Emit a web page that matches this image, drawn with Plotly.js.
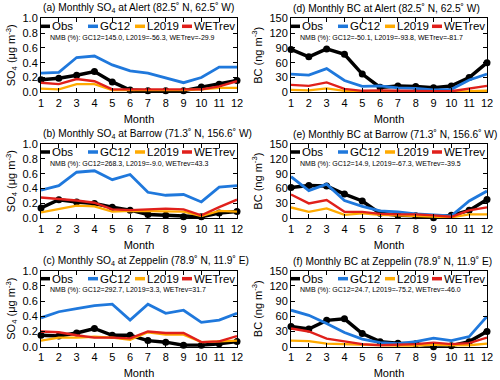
<!DOCTYPE html>
<html>
<head>
<meta charset="utf-8">
<script src="https://cdn.plot.ly/plotly-3.0.1.min.js"></script>
<style>html,body{margin:0;padding:0;background:#fff}#chart{width:500px;height:380px}</style>
</head>
<body>
<div id="chart"></div>
<script>
const months = [1,2,3,4,5,6,7,8,9,10,11,12];
const seriesNames = ["Obs","GC12","L2019","WETrev"];
const seriesColors = ["#000000","#1f78dc","#ffaa00","#e0201b"];

// (a) SO4 Alert
const so4AlertObs    = [0.17,0.19,0.23,0.28,0.14,0.03,0.02,0.02,0.02,0.07,0.11,0.16];
const so4AlertGC12   = [0.26,0.27,0.47,0.49,0.37,0.29,0.26,0.19,0.13,0.20,0.34,0.34];
const so4AlertL2019  = [0.05,0.04,0.11,0.11,0.03,0.03,0.03,0.02,0.03,0.04,0.06,0.06];
const so4AlertWETrev = [0.13,0.11,0.18,0.15,0.04,0.04,0.04,0.03,0.03,0.04,0.08,0.15];
// (d) BC Alert
const bcAlertObs    = [87,72,88,77,37,10,13,12,9,13,30,60];
const bcAlertGC12   = [37,35,48,24,12,13,9,8,5,6,25,37];
const bcAlertL2019  = [5,4,8,3,1,1,1,1,1,1,2,3];
const bcAlertWETrev = [15,13,20,7,3,4,3,2,2,2,8,13];
// (b) SO4 Barrow
const so4BarrowObs    = [0.14,0.25,0.22,0.20,0.15,0.11,0.05,0.04,0.02,0.02,0.07,0.09];
const so4BarrowGC12   = [0.38,0.44,0.62,0.64,0.52,0.59,0.35,0.31,0.32,0.22,0.42,0.44];
const so4BarrowL2019  = [0.08,0.13,0.17,0.16,0.09,0.10,0.10,0.10,0.09,0.03,0.10,0.09];
const so4BarrowWETrev = [0.28,0.26,0.24,0.21,0.12,0.11,0.12,0.13,0.12,0.04,0.15,0.25];
// (e) BC Barrow
const bcBarrowObs    = [62,66,65,49,35,10,6,5,1,6,16,38];
const bcBarrowGC12   = [84,56,69,36,24,15,13,9,7,5,35,55];
const bcBarrowL2019  = [22,13,20,7,10,7,6,5,4,2,8,8];
const bcBarrowWETrev = [48,30,37,13,13,9,8,8,6,3,16,22];
// (c) SO4 Zeppelin
const so4ZepObs    = [0.15,0.14,0.18,0.24,0.15,0.15,0.08,0.06,0.02,0.02,0.04,0.07];
const so4ZepGC12   = [0.38,0.46,0.50,0.54,0.56,0.35,0.56,0.44,0.48,0.32,0.35,0.44];
const so4ZepL2019  = [0.08,0.12,0.12,0.13,0.12,0.09,0.19,0.16,0.16,0.06,0.07,0.08];
const so4ZepWETrev = [0.20,0.19,0.15,0.12,0.12,0.11,0.20,0.18,0.18,0.06,0.07,0.14];
// (f) BC Zeppelin
const bcZepObs    = [40,35,52,55,26,10,7,6,0,2,10,30];
const bcZepGC12   = [72,62,46,28,15,8,6,10,17,12,20,60];
const bcZepL2019  = [12,11,6,5,3,2,2,2,4,3,3,6];
const bcZepWETrev = [36,30,16,10,5,3,4,5,8,5,7,18];

const so4Title = "SO<sub>4</sub> (μg m<sup>-3</sup>)";
const bcTitle = "BC (ng m<sup>-3</sup>)";

const panels = [
  {title:"(a) Monthly SO<sub>4</sub> at Alert (82.5˚ N, 62.5˚ W)", nmb:"NMB (%): GC12=145.0, L2019=-56.3, WETrev=-29.9",
   data:[so4AlertObs,so4AlertGC12,so4AlertL2019,so4AlertWETrev], col:0,row:0, so4:true},
  {title:"(d) Monthly BC at Alert (82.5˚ N, 62.5˚ W)", nmb:"NMB (%): GC12=-50.1, L2019=-93.8, WETrev=-81.7",
   data:[bcAlertObs,bcAlertGC12,bcAlertL2019,bcAlertWETrev], col:1,row:0, so4:false},
  {title:"(b) Monthly SO<sub>4</sub> at Barrow (71.3˚ N, 156.6˚ W)", nmb:"NMB (%): GC12=268.3, L2019=-9.0, WETrev=43.3",
   data:[so4BarrowObs,so4BarrowGC12,so4BarrowL2019,so4BarrowWETrev], col:0,row:1, so4:true},
  {title:"(e) Monthly BC at Barrow (71.3˚ N, 156.6˚ W)", nmb:"NMB (%): GC12=14.9, L2019=-67.3, WETrev=-39.5",
   data:[bcBarrowObs,bcBarrowGC12,bcBarrowL2019,bcBarrowWETrev], col:1,row:1, so4:false},
  {title:"(c) Monthly SO<sub>4</sub> at Zeppelin (78.9˚ N, 11.9˚ E)", nmb:"NMB (%): GC12=292.7, L2019=3.3, WETrev=31.7",
   data:[so4ZepObs,so4ZepGC12,so4ZepL2019,so4ZepWETrev], col:0,row:2, so4:true},
  {title:"(f) Monthly BC at Zeppelin (78.9˚ N, 11.9˚ E)", nmb:"NMB (%): GC12=24.7, L2019=-75.2, WETrev=-46.0",
   data:[bcZepObs,bcZepGC12,bcZepL2019,bcZepWETrev], col:1,row:2, so4:false}
];

const W = 500, H = 380;
const colPx = [[41,237],[291,487]];
const rowPx = [[18.3,92.3],[144,218.3],[270.7,346.7]];
const px = x => x / W;
const py = y => 1 - y / H;

const FONT = "Liberation Sans, Arial, sans-serif";
const traces = [];
const layout = {
  width: W, height: H,
  margin: {l:0, r:0, t:0, b:0},
  paper_bgcolor: "#fff", plot_bgcolor: "#fff",
  showlegend: false,
  font: {family: FONT, color: "#000", size: 11},
  annotations: [], shapes: []
};

panels.forEach((p, i) => {
  const n = i + 1;
  const xa = "xaxis" + (n === 1 ? "" : n), ya = "yaxis" + (n === 1 ? "" : n);
  const xr = "x" + (n === 1 ? "" : n), yr = "y" + (n === 1 ? "" : n);
  const [L, R] = colPx[p.col];
  const [T, B] = rowPx[p.row];
  layout[xa] = {
    domain: [px(L), px(R)], anchor: yr, range: [1, 12],
    tickvals: months, ticktext: months.map(String),
    ticks: "inside", ticklen: 4, tickcolor: "#000", mirror: "ticks",
    showline: true, linecolor: "#000", linewidth: 1, showgrid: false, zeroline: false,
    tickfont: {size: 11}, title: {text: "Month", font: {size: 11}, standoff: 7}
  };
  layout[ya] = {
    domain: [py(B), py(T)], anchor: xr,
    range: p.so4 ? [0, 1] : [0, 150],
    tickvals: p.so4 ? [0,0.2,0.4,0.6,0.8,1.0] : [0,30,60,90,120,150],
    ticktext: p.so4 ? ["0.0","0.2","0.4","0.6","0.8","1.0"] : ["0","30","60","90","120","150"],
    ticks: "inside", ticklen: 4, tickcolor: "#000", mirror: "ticks",
    showline: true, linecolor: "#000", linewidth: 1, showgrid: false, zeroline: false,
    tickfont: {size: 11}, title: {text: p.so4 ? so4Title : bcTitle, font: {size: 11}, standoff: 4}
  };
  const widths = [3.5, 2.8, 2.4, 2.4];
  p.data.forEach((vals, k) => {
    const t = {
      type: "scatter", mode: k === 0 ? "lines+markers" : "lines",
      x: months, y: vals, xaxis: xr, yaxis: yr, name: seriesNames[k],
      line: {color: seriesColors[k], width: widths[k]}, cliponaxis: false
    };
    if (k === 0) t.marker = {color: "#000", size: 7};
    traces.push(t);
  });
  // panel title
  layout.annotations.push({
    xref: "paper", yref: "paper", x: px(L + 1), y: py(T - 9.5), xanchor: "left", yanchor: "middle",
    text: p.title, showarrow: false, font: {size: 10.2}, borderpad: 0
  });
  // legend row
  const legOff = [[-1, 9, 10], [47, 57, 58], [94, 104, 105], [141, 151, 152]];
  legOff.forEach((o, k) => {
    layout.shapes.push({
      type: "line", xref: "paper", yref: "paper",
      x0: px(L + o[0]), x1: px(L + o[1]), y0: py(T + 8), y1: py(T + 8),
      line: {color: seriesColors[k], width: 3.5}
    });
    layout.annotations.push({
      xref: "paper", yref: "paper", x: px(L + o[2]), y: py(T + 8), xanchor: "left", yanchor: "middle",
      text: seriesNames[k], showarrow: false, font: {size: 11.5}, borderpad: 0
    });
  });
  layout.annotations.push({
    xref: "paper", yref: "paper", x: px(L + 8), y: py(T + 19.5), xanchor: "left", yanchor: "middle",
    text: p.nmb, showarrow: false, font: {size: 7}, borderpad: 0
  });
});

Plotly.newPlot("chart", traces, layout, {displayModeBar: false, staticPlot: true});
</script>
</body>
</html>
